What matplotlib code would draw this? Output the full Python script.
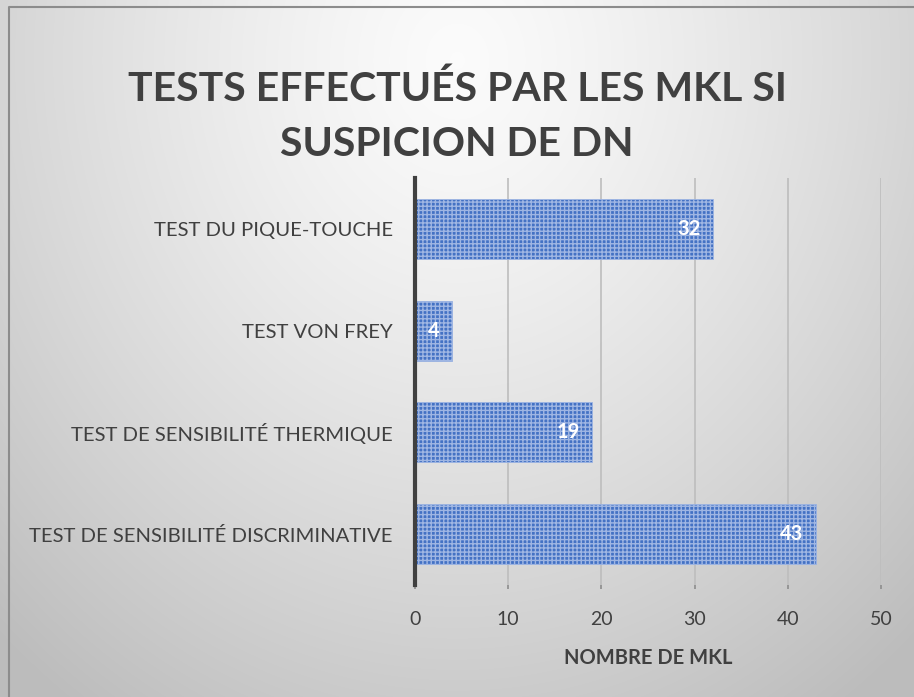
import matplotlib; matplotlib.use('Agg')
import matplotlib.pyplot as plt
import numpy as np

plt.rcParams['font.family'] = ['Lato', 'DejaVu Sans']
plt.rcParams['hatch.color'] = '#6a90d6'

categories = ['TEST DE SENSIBILITÉ DISCRIMINATIVE', 'TEST DE SENSIBILITÉ THERMIQUE',
              'TEST VON FREY', 'TEST DU PIQUE-TOUCHE']
values = [43, 19, 4, 32]
xticks = [0, 10, 20, 30, 40, 50]
title = 'TESTS EFFECTUÉS PAR LES MKL SI\nSUSPICION DE DN'
xlabel = 'NOMBRE DE MKL'

W, H = 914, 697
fig = plt.figure(figsize=(W/100, H/100), dpi=100)

# radial grey background, light at top centre
bg = fig.add_axes([0, 0, 1, 1]); bg.axis('off')
yy, xx = np.mgrid[0:H, 0:W]
r = np.sqrt(((xx - 457) / 620.0)**2 + ((yy - 60) / 720.0)**2)
g = np.clip(0.985 - 0.22 * r**1.3, 0.74, 1.0)
bg.imshow(np.dstack([g, g, g]), extent=[0, W, H, 0], aspect='auto', zorder=0)
bg.set_xlim(0, W); bg.set_ylim(H, 0)
bg.plot([9, 9, W], [H, 7, 7], color='#8c8c8c', lw=1.5, zorder=1)

INK = '#404040'
ax = fig.add_axes([415/W, 1-585/H, 466/W, 407/H])
ax.set_facecolor('none')
y = np.arange(len(categories))
bars = ax.barh(y, values, height=0.59, color='#4472c4', edgecolor='#9fb6e3',
               hatch='++++', linewidth=0.6, zorder=3)
for b, v in zip(bars, values):
    ax.annotate(str(v), (v, b.get_y() + b.get_height()/2), xytext=(-9, 0),
                textcoords='offset points', ha='right', va='center',
                color='white', fontsize=14.5, fontweight='bold', zorder=4)

ax.set_xlim(0, 50)
ax.set_ylim(-0.5, len(categories) - 0.5)
ax.set_xticks(xticks)
ax.set_yticks(y)
ax.set_yticklabels(categories)
ax.grid(axis='x', color='#bdbdbd', lw=1.2, zorder=1)
ax.set_axisbelow(True)
for s in ['top', 'right', 'bottom']:
    ax.spines[s].set_visible(False)
ax.spines['left'].set_color(INK)
ax.spines['left'].set_linewidth(3)
ax.spines['left'].set_zorder(5)
ax.tick_params(axis='y', length=0, pad=16, labelsize=14.6, labelcolor=INK)
ax.tick_params(axis='x', length=3, color='#8c8c8c', width=1.2, pad=16,
               labelsize=14, labelcolor=INK)
ax.set_xlabel(xlabel, fontsize=14.5, fontweight='bold', color=INK, labelpad=14)

fig.text(0.5, 1-117/H, title, ha='center', va='center', fontsize=29.5,
         fontweight='bold', color=INK, linespacing=1.6)

fig.savefig('out.png', dpi=100)
